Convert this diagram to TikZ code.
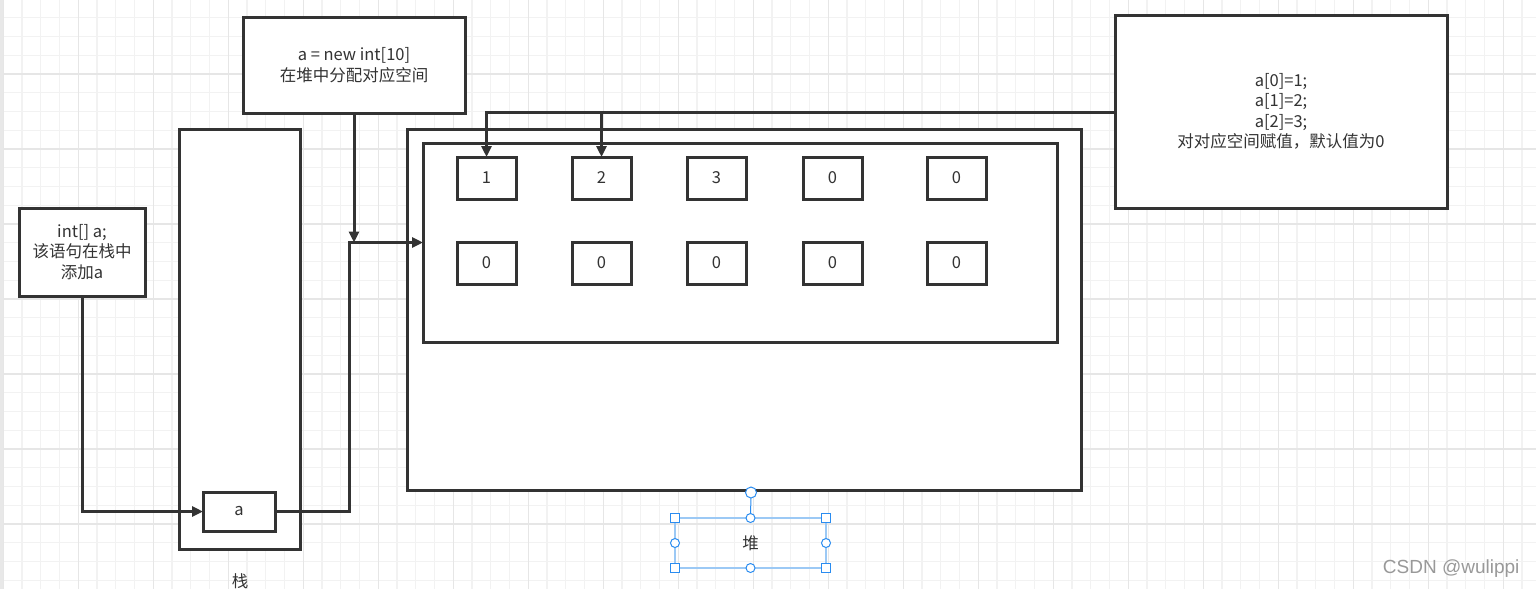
\documentclass[tikz,border=0pt]{standalone}
\usepackage{fontspec}
\setmainfont{Noto Sans CJK SC}
\newfontfamily\wmfont{Liberation Sans}
\usetikzlibrary{arrows.meta}
\definecolor{ink}{HTML}{333333}
\definecolor{gridminor}{HTML}{F2F2F2}
\definecolor{gridmajor}{HTML}{E6E6E6}
\definecolor{selblue}{HTML}{2A8CF0}
\definecolor{sellight}{HTML}{9CC9F5}
\begin{document}
\begin{tikzpicture}[x=1pt,y=-1pt,
  box/.style={draw=ink, line width=3pt, fill=white, inner sep=0pt, outer sep=0pt,
    anchor=north west, align=center, text=ink, font=\fontsize{16.5}{20.5}\selectfont},
  cell/.style={box, minimum width=59pt, minimum height=42pt},
  arr/.style={draw=ink, line width=3pt, -{Triangle[length=11pt,width=10pt]}},
  lbl/.style={text=ink, font=\fontsize{16.5}{20}\selectfont},
  sqhandle/.style={draw=selblue, fill=white, line width=1pt, minimum size=9pt, inner sep=0pt, outer sep=0pt},
  cirhandle/.style={draw=selblue, fill=white, line width=1pt, circle, minimum size=9pt, inner sep=0pt, outer sep=0pt}
]
\useasboundingbox (0,0) rectangle (1536,589);
\fill[white] (0,0) rectangle (1536,589);
% grid
\begin{scope}
\clip (0,0) rectangle (1536,589);
\foreach \i in {0,...,82} {
  \draw[gridminor, line width=1.2pt] ({3.3+18.75*\i},0) -- ({3.3+18.75*\i},589);
}
\foreach \j in {0,...,32} {
  \draw[gridminor, line width=1.2pt] (0,{-1+18.75*\j}) -- (1536,{-1+18.75*\j});
}
\foreach \i in {0,...,20} {
  \draw[gridmajor, line width=1.2pt] ({3.3+75*\i},0) -- ({3.3+75*\i},589);
}
\foreach \j in {0,...,8} {
  \draw[gridmajor, line width=1.2pt] (0,{-1+75*\j}) -- (1536,{-1+75*\j});
}
\end{scope}
\fill[gray!18] (0,0) rectangle (3,589);

% boxes
\node[box, minimum width=222pt, minimum height=96pt] (top) at (243,17) {a = new int[10]\\在堆中分配对应空间};
\node[box, minimum width=121pt, minimum height=420pt] (stack) at (179,129) {};
\node[box, minimum width=72pt, minimum height=39pt] (abox) at (203,492) {a};
\node[lbl] (stacklbl) at (240,581) {栈};
\node[box, minimum width=126pt, minimum height=88pt] (intbox) at (19,208) {int[] a;\\该语句在栈中\\添加a};
\node[box, minimum width=674pt, minimum height=361pt] (heap) at (407,129) {};
\node[box, minimum width=634pt, minimum height=199pt] (inner) at (423,143) {};
\node[box, minimum width=332pt, minimum height=193pt] (rbox) at (1115,15) {a[0]=1;\\a[1]=2;\\a[2]=3;\\对对应空间赋值，默认值为0};

% cells
\node[cell] (c1) at (457,157) {1};
\node[cell] (c2) at (572,157) {2};
\node[cell] (c3) at (687,157) {3};
\node[cell] (c4) at (803,157) {0};
\node[cell] (c5) at (927,157) {0};
\node[cell] (d1) at (457,242) {0};
\node[cell] (d2) at (572,242) {0};
\node[cell] (d3) at (687,242) {0};
\node[cell] (d4) at (803,242) {0};
\node[cell] (d5) at (927,242) {0};

% connectors
\coordinate (j1) at (349,242.5);
\draw[arr] (intbox.south) |- (abox.west);
\draw[arr] (abox.east) -| (j1) -- (inner.west);
\draw[arr] (top.south) -- (top.south |- j1);
\coordinate (r1) at (1115,112);
\draw[arr] (r1) -| (c1.north);
\draw[arr] (c2.north |- r1) -- (c2.north);

% selection of heap label
\node[draw=sellight, line width=1.5pt, minimum width=151pt, minimum height=50pt, inner sep=0pt, outer sep=0pt, lbl] (heaplbl) at (750.5,543) {堆};
\coordinate (rot) at (751,492.5);
\draw[selblue, line width=1pt] (rot) -- (heaplbl.north);
\node[cirhandle, minimum size=11pt] (hrot) at (rot) {};
\node[sqhandle] (h1) at (heaplbl.north west) {};
\node[sqhandle] (h2) at (heaplbl.north east) {};
\node[sqhandle] (h3) at (heaplbl.south west) {};
\node[sqhandle] (h4) at (heaplbl.south east) {};
\node[cirhandle] (h5) at (heaplbl.north) {};
\node[cirhandle] (h6) at (heaplbl.south) {};
\node[cirhandle] (h7) at (heaplbl.west) {};
\node[cirhandle] (h8) at (heaplbl.east) {};

% watermark
\node[text=gray!80, font=\wmfont\fontsize{19}{19}\selectfont, anchor=east] (wm) at (1523,569) {CSDN @wulippi};
\end{tikzpicture}
\end{document}
